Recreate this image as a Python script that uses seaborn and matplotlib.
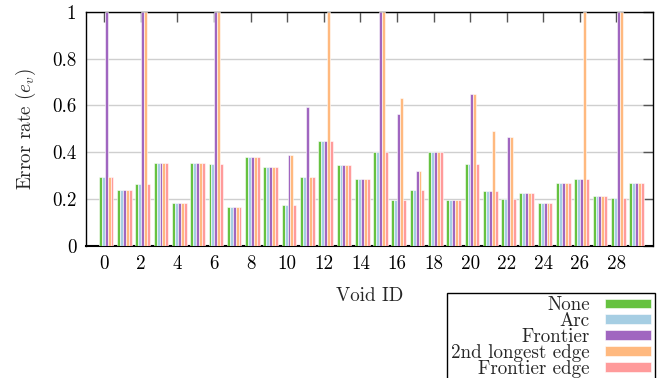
import numpy as np
import pandas as pd
import matplotlib
matplotlib.use("Agg")
import matplotlib.pyplot as plt
from matplotlib.patches import Patch
import seaborn as sns

void_ids = list(range(30))
series = ["None", "Arc", "Frontier", "2nd longest edge", "Frontier edge"]
colors = ["#66c240", "#a6cee3", "#a066c0", "#ffb97f", "#ff9b9b"]

none_vals = [0.294, 0.239, 0.264, 0.354, 0.182, 0.354, 0.351, 0.166, 0.381, 0.337,
             0.174, 0.294, 0.449, 0.346, 0.286, 0.401, 0.197, 0.240, 0.399, 0.197,
             0.349, 0.234, 0.200, 0.227, 0.182, 0.269, 0.286, 0.214, 0.206, 0.269]
arc_vals = [0.294, 0.239, 0.264, 0.354, 0.182, 0.354, 0.351, 0.166, 0.381, 0.337,
            0.174, 0.294, 0.449, 0.346, 0.286, 0.401, 0.197, 0.240, 0.399, 0.197,
            0.349, 0.234, 0.200, 0.227, 0.182, 0.269, 0.286, 0.214, 0.206, 0.269]
frontier_vals = [1.0, 0.239, 1.0, 0.354, 0.182, 0.354, 1.0, 0.166, 0.381, 0.337,
                 0.387, 0.593, 0.449, 0.346, 0.286, 1.0, 0.562, 0.320, 0.399, 0.197,
                 0.650, 0.234, 0.463, 0.227, 0.182, 0.269, 0.286, 0.214, 1.0, 0.269]
second_vals = [0.294, 0.239, 1.0, 0.354, 0.182, 0.354, 1.0, 0.166, 0.381, 0.337,
               0.387, 0.294, 1.0, 0.346, 0.286, 1.0, 0.632, 0.320, 0.399, 0.197,
               0.650, 0.492, 0.463, 0.227, 0.182, 0.269, 1.0, 0.214, 1.0, 0.269]
fedge_vals = [0.294, 0.239, 0.264, 0.354, 0.182, 0.354, 0.351, 0.166, 0.381, 0.337,
              0.174, 0.294, 0.449, 0.346, 0.286, 0.401, 0.197, 0.240, 0.399, 0.197,
              0.349, 0.234, 0.200, 0.227, 0.182, 0.269, 0.286, 0.214, 0.206, 0.269]

all_vals = [none_vals, arc_vals, frontier_vals, second_vals, fedge_vals]
df = pd.DataFrame({
    "Void ID": np.tile(void_ids, len(series)),
    "Method": np.repeat(series, len(void_ids)),
    "Error": np.concatenate(all_vals),
})

FS = 13.7
sns.set_theme(style="white")
plt.rcParams["font.family"] = ["cmr10", "DejaVu Serif"]
plt.rcParams["mathtext.fontset"] = "cm"
plt.rcParams["axes.formatter.use_mathtext"] = True
plt.rcParams["axes.unicode_minus"] = False

fig = plt.figure(figsize=(6.66, 3.78), dpi=100)
ax = fig.add_axes([86/666, 1-245.7/378, (653-86)/666, (245.7-12)/378])

sns.barplot(data=df, x="Void ID", y="Error", hue="Method", order=void_ids,
            hue_order=series, palette=colors, saturation=1, width=0.8, gap=0,
            ax=ax, legend=False, linewidth=0.4, edgecolor="white", zorder=3)

ax.set_xlim(-1.1, 29.9)
ax.set_ylim(0, 1)
ax.set_xticks(np.arange(0, 30, 2) - 0.1)
ax.set_xticklabels([str(i) for i in range(0, 30, 2)])
ax.set_yticks([0, 0.2, 0.4, 0.6, 0.8, 1.0])
ax.set_yticklabels(["0", "0.2", "0.4", "0.6", "0.8", "1"])
ax.yaxis.grid(True, color="#cfcfcf", linewidth=1.0, zorder=0)
ax.set_axisbelow(True)
ax.tick_params(axis="both", direction="in", length=7, width=1, color="#555555",
               labelsize=FS, top=True, right=True, pad=7, labelcolor="black")
for s in ax.spines.values():
    s.set_color("black")
    s.set_linewidth(1)
ax.spines["bottom"].set_linewidth(1.5)

ax.set_xlabel("Void ID", fontsize=FS, labelpad=10)
ax.set_ylabel("Error rate ($e_v$)", fontsize=FS, labelpad=10)

handles = [Patch(facecolor=c, edgecolor="white", linewidth=0.4) for c in colors]
leg = fig.legend(handles, series, loc="upper right",
                 bbox_to_anchor=(655/666, 1-292.5/378), bbox_transform=fig.transFigure,
                 markerfirst=False, fancybox=False, framealpha=1, edgecolor="black",
                 fontsize=FS, handlelength=2.42, handleheight=0.42, labelspacing=-0.11,
                 handletextpad=0.8, borderpad=0.2, borderaxespad=0)
leg.get_frame().set_linewidth(1)

fig.savefig("out.png", dpi=100)
